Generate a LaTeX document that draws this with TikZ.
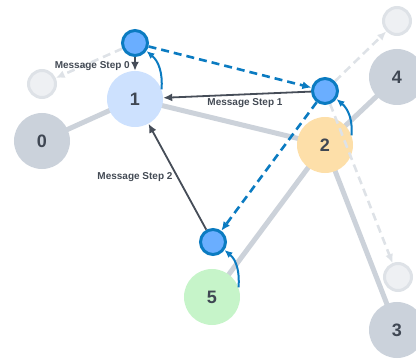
\documentclass[tikz,border=0pt]{standalone}
\usepackage{fontspec}
\setmainfont{Liberation Sans}
\usetikzlibrary{arrows.meta}
\definecolor{edgegray}{HTML}{CCD2DA}
\definecolor{nodegray}{HTML}{CBD2DB}
\definecolor{numtext}{HTML}{3F4753}
\definecolor{labtext}{HTML}{434A54}
\definecolor{arrdark}{HTML}{464D58}
\definecolor{bluefill}{HTML}{6AAEFF}
\definecolor{blueline}{HTML}{0B7BC1}
\definecolor{ghostfill}{HTML}{EEF0F3}
\definecolor{ghostline}{HTML}{DEE2E7}
\definecolor{onefill}{HTML}{CDE1FE}
\definecolor{twofill}{HTML}{FDDFA9}
\definecolor{fivefill}{HTML}{C6F4C9}
\tikzset{
  bignode/.style={circle, minimum size=56bp, inner sep=0pt, text=numtext, font=\fontsize{18bp}{20bp}\selectfont\bfseries},
  bluenode/.style={circle, minimum size=25bp, inner sep=0pt, fill=bluefill, draw=blueline, line width=3bp},
  ghostnode/.style={circle, minimum size=27bp, inner sep=0pt, fill=ghostfill, draw=ghostline, line width=3bp},
  graph edge/.style={edgegray, line width=5bp},
  msgarrow/.style={arrdark, line width=1.8bp, -{Latex[length=9bp,width=8bp]}},
  bluedash/.style={blueline, line width=2.6bp, dash pattern=on 8bp off 5bp, -{Latex[length=9bp,width=8bp]}},
  graydash/.style={ghostline, line width=2.6bp, dash pattern=on 8bp off 5bp, -{Latex[length=9bp,width=8bp]}},
  selfarrow/.style={blueline, line width=2bp, -{Latex[length=8bp,width=7bp]}},
  msglabel/.style={text=labtext, font=\fontsize{10bp}{12bp}\selectfont\bfseries, inner sep=1bp}
}
\begin{document}
\begin{tikzpicture}[x=1bp,y=1bp]
\useasboundingbox (0,0) rectangle (416,362);
% coordinates of main nodes
\coordinate (p1) at (135,263);
\coordinate (p0) at (42,221);
\coordinate (p2) at (325,217);
\coordinate (p4) at (397,285);
\coordinate (p3) at (397,32);
\coordinate (p5) at (212,65);
% graph edges
\draw[graph edge] (p1) -- (p0);
\draw[graph edge] (p1) -- (p2);
\draw[graph edge] (p2) -- (p4);
\draw[graph edge] (p2) -- (p3);
\draw[graph edge] (p2) -- (p5);
% main nodes
\node[bignode, fill=onefill] (n1) at (p1) {1};
\node[bignode, fill=nodegray] (n0) at (p0) {0};
\node[bignode, fill=twofill] (n2) at (p2) {2};
\node[bignode, fill=nodegray] (n4) at (p4) {4};
\node[bignode, fill=nodegray] (n3) at (p3) {3};
\node[bignode, fill=fivefill] (n5) at (p5) {5};
% ghost nodes
\node[ghostnode] (g1) at (42,278) {};
\node[ghostnode] (g2) at (397,341) {};
\node[ghostnode] (g3) at (398,85) {};
% blue message nodes
\node[bluenode] (b1) at (135,319) {};
\node[bluenode] (b2) at (325,271) {};
\node[bluenode] (b3) at (213,120) {};
% gray dashed arrows
\draw[graydash] (b1) -- (g1);
\draw[graydash] (b2) -- (g2);
\draw[graydash] (b2) -- (g3);
% blue dashed arrows
\draw[bluedash] (b1) -- (b2);
\draw[bluedash] (b2) -- (b3);
% message arrows
\draw[msgarrow] (b1) -- (n1);
\draw[msgarrow] (b2) -- (n1);
\draw[msgarrow] (b3) -- (n1);
% labels
\node[msglabel, anchor=east] (l0) at (131,296) {Message Step 0};
\node[msglabel] (l1) at (245,259) {Message Step 1};
\node[msglabel] (l2) at (135,185) {Message Step 2};
% self update arrows
\draw[selfarrow] (n1.20) to[out=85,in=-40] (b1.-35);
\draw[selfarrow] (n2.20) to[out=85,in=-40] (b2.-35);
\draw[selfarrow] (n5.20) to[out=85,in=-40] (b3.-35);
\end{tikzpicture}
\end{document}
